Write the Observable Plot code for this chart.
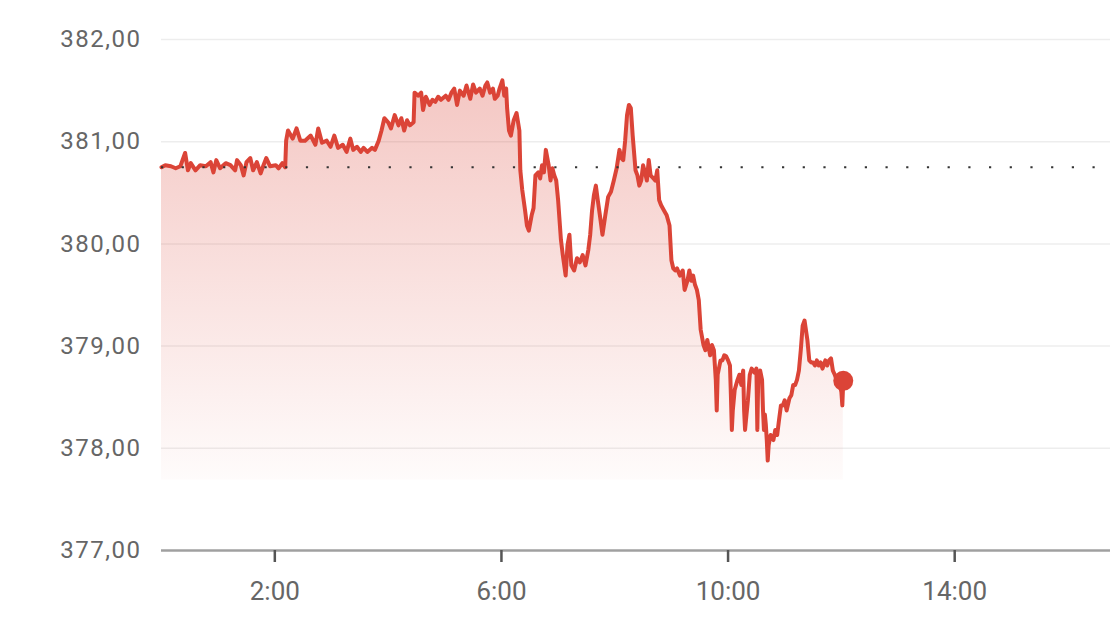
<!DOCTYPE html>
<html>
<head>
<meta charset="utf-8">
<script src="https://cdn.jsdelivr.net/npm/d3@7"></script>
<script src="https://cdn.jsdelivr.net/npm/@observablehq/plot@0.6"></script>
<style>
  html, body { margin: 0; padding: 0; background: #fff; }
  #chart { width: 1110px; height: 624px; overflow: hidden; }
</style>
</head>
<body>
<div id="chart"></div>
<script>
// minutes since midnight
const minutes = [
  0,4,10,15,20,25,28,31,36,41,47,52,55,58,62,68,73,78,80,84,87,90,94,97,101,105,108,111,115,121,124,128,131,
  132,134,139,143,147,152,158,163,166,170,175,179,183,187,192,196,200,203,207,211,214,218,223,226,230,233,236,240,243,247,251,254,257,260,263,267,
  268,272,275,277,280,284,287,290,293,296,301,304,307,310,313,316,320,323,327,330,333,337,340,343,345,348,351,353,356,358,361,363,365,
  366,368,370,373,376,379,380,382,385,387,389,392,394,396,399,401,403,405,407,410,412,414,416,418,420,423,425,428,430,432,434,437,440,443,446,449,452,
  454,456,458,460,462,465,467,470,473,476,479,482,485,487,489,491,493,495,497,499,502,504,506,508,510,512,514,516,518,521,523,525,527,529,532,535,538,
  540,542,544,546,549,552,554,557,559,561,563,565,567,569,571,574,576,578,581,583,585,587,588,589,592,594,596,598,600,602,603,604,605,607,610,612,614,
  616,617,618,619,621,623,625,628,630,631,632,634,636,637,638,639,640,641,642,643,645,648,650,652,654,656,658,660,662,665,667,669,671,673,675,677,679,
  681,684,686,688,690,692,694,696,698,700,703,705,707,709,711,713,715,717,720,721,722
];
const prices = [
  380.75,380.77,380.76,380.74,380.76,380.89,380.72,380.79,380.72,380.77,380.76,380.80,380.70,380.82,380.74,380.79,380.77,380.72,380.82,380.77,380.67,380.80,380.84,380.72,380.80,380.69,380.77,380.84,380.76,380.77,380.74,380.79,380.75,
  381.01,381.11,381.03,381.13,381.01,381.01,381.06,380.97,381.13,380.99,381.01,380.95,381.06,380.94,380.97,380.90,381.03,380.92,380.95,380.90,380.94,380.90,380.94,380.92,381.01,381.11,381.23,381.19,381.13,381.26,381.16,381.23,381.11,381.21,381.16,381.19,
  381.48,381.45,381.48,381.31,381.44,381.36,381.41,381.39,381.44,381.41,381.45,381.41,381.48,381.52,381.36,381.50,381.45,381.55,381.42,381.56,381.48,381.52,381.45,381.55,381.58,381.48,381.52,381.42,381.45,381.52,381.60,381.45,381.52,
  381.33,381.11,381.06,381.21,381.28,381.11,380.72,380.53,380.33,380.18,380.13,380.28,380.35,380.67,380.70,380.64,380.77,380.70,380.92,380.77,380.62,380.74,380.67,380.62,380.43,380.04,379.89,379.69,379.99,380.09,379.79,379.74,379.86,379.82,379.89,379.79,379.94,
  380.09,380.33,380.48,380.57,380.43,380.23,380.09,380.28,380.46,380.51,380.62,380.74,380.92,380.84,380.82,381.01,381.26,381.36,381.33,381.06,380.72,380.67,380.57,380.62,380.77,380.70,380.62,380.82,380.67,380.64,380.62,380.72,380.43,380.38,380.33,380.28,380.18,
  379.84,379.76,379.74,379.76,379.69,379.74,379.55,379.64,379.74,379.64,379.69,379.60,379.55,379.45,379.16,379.01,378.96,379.06,378.91,379.01,378.96,378.67,378.37,378.72,378.86,378.86,378.91,378.90,378.86,378.81,378.52,378.18,378.37,378.57,378.67,378.72,378.62,
  378.76,378.37,378.18,378.28,378.47,378.72,378.78,378.74,378.78,378.18,378.72,378.76,378.67,378.37,378.18,378.33,378.23,378.08,377.88,378.03,378.13,378.08,378.18,378.13,378.28,378.42,378.42,378.47,378.37,378.49,378.52,378.62,378.62,378.67,378.76,378.96,379.20,
  379.25,379.06,378.86,378.84,378.84,378.81,378.86,378.81,378.84,378.78,378.86,378.81,378.86,378.88,378.76,378.72,378.67,378.69,378.55,378.42,378.66
];
const previousClose = 380.75;
const yTicks = [377, 378, 379, 380, 381, 382];
const xTicks = [120, 360, 600, 840]; // 2:00, 6:00, 10:00, 14:00

const data = minutes.map((m, i) => ({m, p: prices[i]}));
const last = data[data.length - 1];
const red = "#db4437";

const chart = Plot.plot({
  width: 1110,
  height: 624,
  marginLeft: 161,
  marginRight: 0,
  marginTop: 39,
  marginBottom: 74,
  style: {fontFamily: "Roboto, sans-serif", background: "#fff", overflow: "visible"},
  x: {domain: [0, 1005]},
  y: {domain: [377, 382]},
  marks: [
    Plot.gridY(yTicks.filter(d => d > 377), {stroke: "#000", strokeOpacity: 0.07, strokeWidth: 1.5}),
    Plot.areaY(data, {x: "m", y1: 377.69, y2: "p", fill: "url(#fadeRed)", curve: "linear"}),
    Plot.lineY(data, {x: "m", y: "p", stroke: red, strokeWidth: 4, strokeLinejoin: "round"}),
    Plot.ruleY([previousClose], {stroke: "#333", strokeWidth: 2.2, strokeDasharray: "2.2,18.5"}),
    Plot.dot([last], {x: "m", y: "p", r: 10, fill: red}),
    Plot.ruleY([377], {stroke: "#a0a0a0", strokeWidth: 2.5}),
    Plot.axisY({ticks: yTicks, tickSize: 0, tickPadding: 20, fontSize: 24,
      tickFormat: d => d.toFixed(2).replace(".", ","), fill: "#666", label: null}),
    Plot.axisX({ticks: xTicks, tickSize: 12, tickPadding: 19, fontSize: 26,
      stroke: "#555", strokeWidth: 2.5, fill: "#666",
      tickFormat: m => `${m / 60}:00`, label: null})
  ]
});

// gradient definition for the area
const ns = "http://www.w3.org/2000/svg";
const defs = document.createElementNS(ns, "defs");
const grad = document.createElementNS(ns, "linearGradient");
grad.setAttribute("id", "fadeRed");
grad.setAttribute("x1", "0"); grad.setAttribute("y1", "0");
grad.setAttribute("x2", "0"); grad.setAttribute("y2", "1");
[[0, 0.3], [1, 0.02]].forEach(([o, a]) => {
  const s = document.createElementNS(ns, "stop");
  s.setAttribute("offset", o);
  s.setAttribute("stop-color", red);
  s.setAttribute("stop-opacity", a);
  grad.appendChild(s);
});
defs.appendChild(grad);
chart.insertBefore(defs, chart.firstChild);

chart.querySelectorAll('g[aria-label="x-axis tick label"] text').forEach(t => {
  t.style.fontSize = "26px";
});
chart.querySelectorAll('g[aria-label="y-axis tick label"] text').forEach(t => {
  t.setAttribute("letter-spacing", "1.5");
});

document.getElementById("chart").appendChild(chart);
</script>
</body>
</html>
